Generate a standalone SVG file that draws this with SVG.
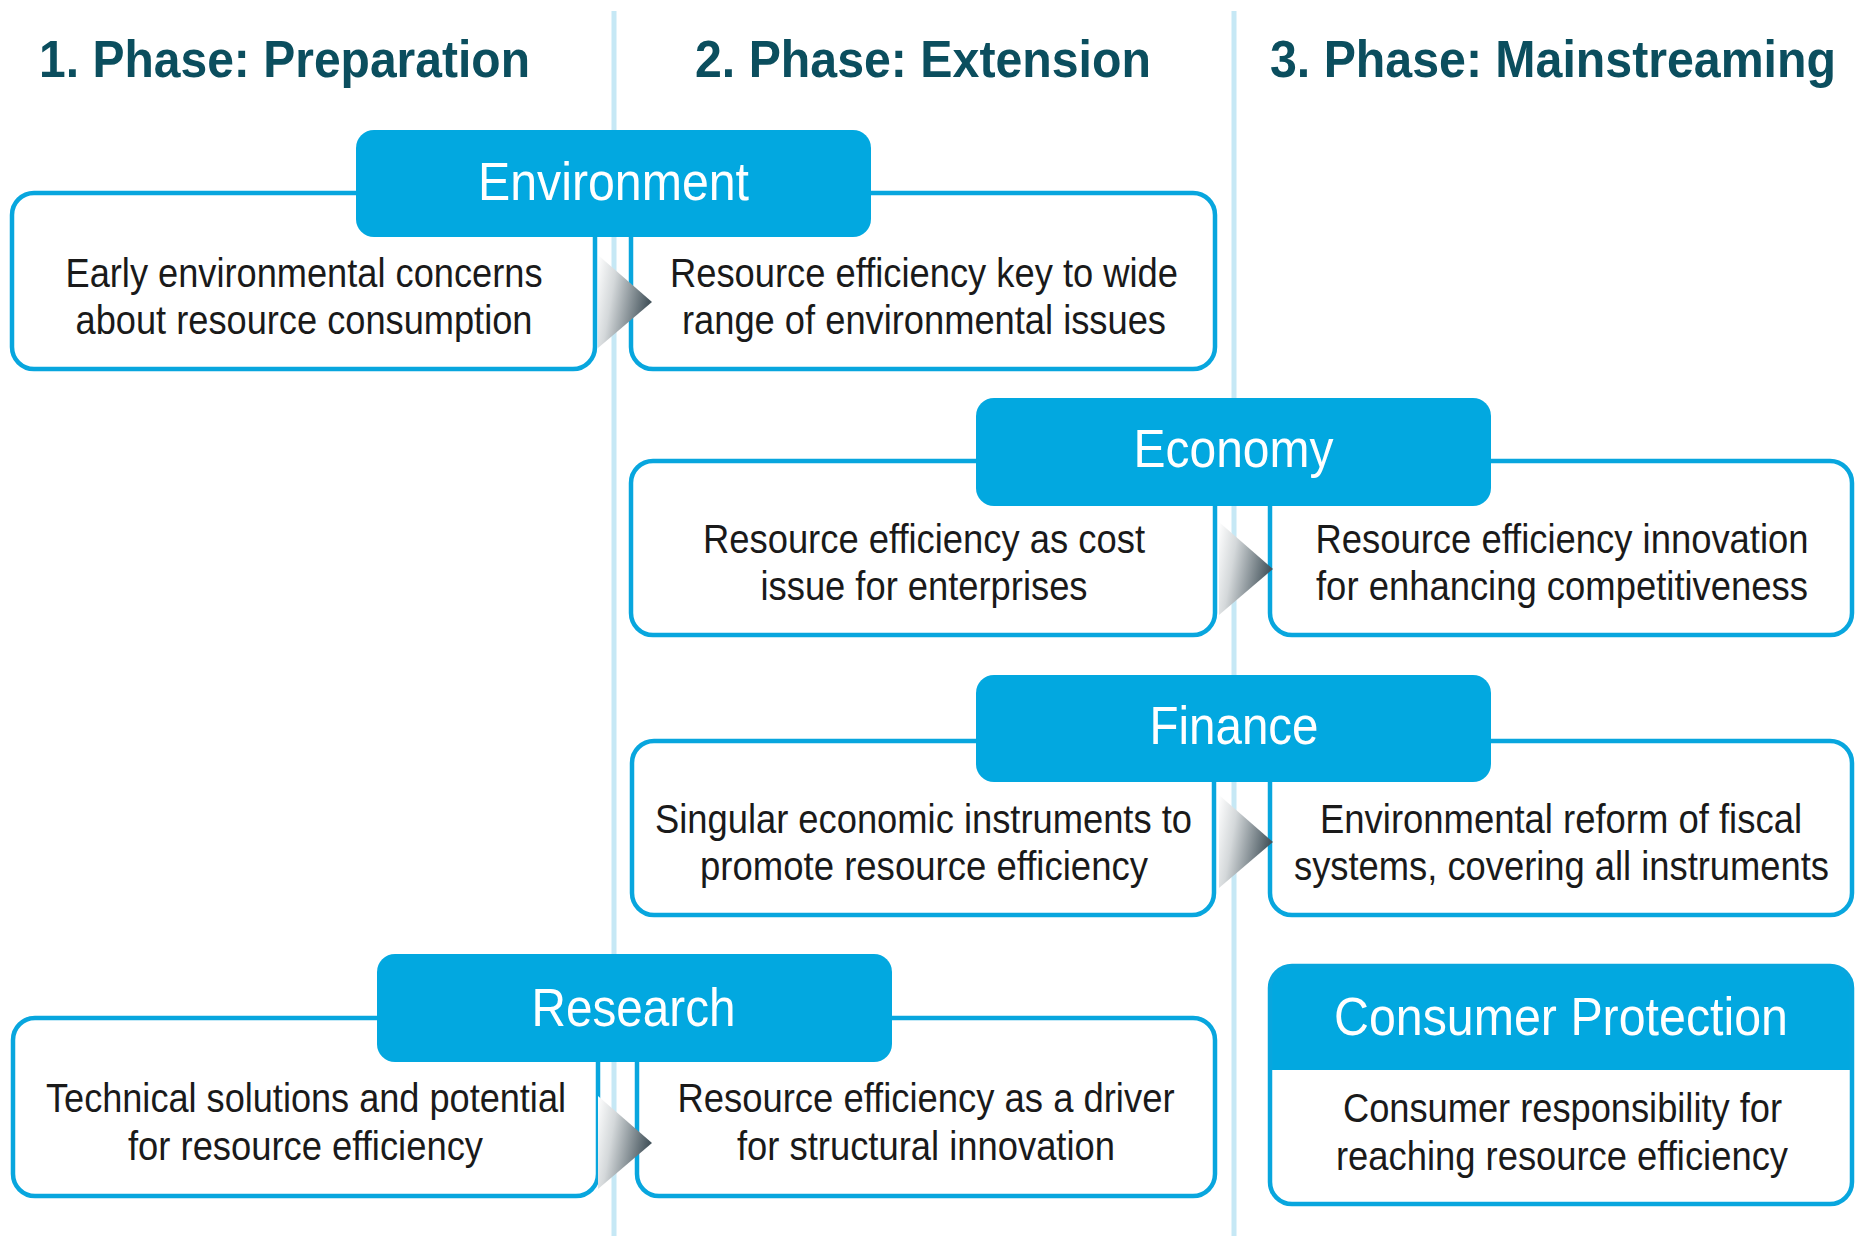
<svg xmlns="http://www.w3.org/2000/svg" width="1856" height="1236" viewBox="0 0 1856 1236">
<defs>
<style>
.div{stroke:#c6e8f5;stroke-width:5;fill:none}
.box{fill:#fff;stroke:#08a6de;stroke-width:4.5}
.hdr{fill:#02a8e0}
.ph{font-family:"Liberation Sans",Arial,sans-serif;font-weight:bold;font-size:52px;fill:#0b4e5e;text-anchor:middle}
.ht{font-family:"Liberation Sans",Arial,sans-serif;font-size:53px;fill:#fff;text-anchor:middle}
.bt{font-family:"Liberation Sans",Arial,sans-serif;font-size:40px;fill:#1a1a1a;text-anchor:middle}
</style>
<linearGradient id="chevGrad" x1="0" y1="0" x2="1" y2="0.3">
<stop offset="0" stop-color="#ffffff"/>
<stop offset="0.35" stop-color="#d4d8da"/>
<stop offset="1" stop-color="#47565e"/>
</linearGradient>
<path id="chev" d="M0,0 L54,47 L0,93 Z" fill="url(#chevGrad)"/>
</defs>
<rect width="1856" height="1236" fill="#fff"/>

<g id="dividers">
<line class="div" x1="614" y1="11" x2="614" y2="1236"/>
<line class="div" x1="1234" y1="11" x2="1234" y2="1236"/>
</g>

<g id="phase-headings">
<text class="ph" x="284.5" y="77" textLength="491" lengthAdjust="spacingAndGlyphs">1. Phase: Preparation</text>
<text class="ph" x="923" y="77" textLength="456" lengthAdjust="spacingAndGlyphs">2. Phase: Extension</text>
<text class="ph" x="1553" y="77" font-size="50" textLength="566" lengthAdjust="spacingAndGlyphs">3. Phase: Mainstreaming</text>
</g>

<g id="env-left">
<rect class="box" x="12" y="193" width="583" height="176" rx="22"/>
<text class="bt" x="304" y="287" textLength="477" lengthAdjust="spacingAndGlyphs">Early environmental concerns</text>
<text class="bt" x="304" y="334" textLength="457" lengthAdjust="spacingAndGlyphs">about resource consumption</text>
</g>
<g id="env-right">
<rect class="box" x="631" y="193" width="584" height="176" rx="22"/>
<text class="bt" x="924" y="287" textLength="508" lengthAdjust="spacingAndGlyphs">Resource efficiency key to wide</text>
<text class="bt" x="924" y="334" textLength="484" lengthAdjust="spacingAndGlyphs">range of environmental issues</text>
</g>
<g id="econ-left">
<rect class="box" x="631" y="461" width="584" height="174" rx="22"/>
<text class="bt" x="924" y="553" textLength="442" lengthAdjust="spacingAndGlyphs">Resource efficiency as cost</text>
<text class="bt" x="924" y="600" textLength="327" lengthAdjust="spacingAndGlyphs">issue for enterprises</text>
</g>
<g id="econ-right">
<rect class="box" x="1270" y="461" width="582" height="174" rx="22"/>
<text class="bt" x="1562" y="553" textLength="493" lengthAdjust="spacingAndGlyphs">Resource efficiency innovation</text>
<text class="bt" x="1562" y="600" textLength="492" lengthAdjust="spacingAndGlyphs">for enhancing competitiveness</text>
</g>
<g id="fin-left">
<rect class="box" x="632" y="741" width="582" height="174" rx="22"/>
<text class="bt" x="923.5" y="833" font-size="38" textLength="537" lengthAdjust="spacingAndGlyphs">Singular economic instruments to</text>
<text class="bt" x="924" y="880" textLength="448" lengthAdjust="spacingAndGlyphs">promote resource efficiency</text>
</g>
<g id="fin-right">
<rect class="box" x="1270" y="741" width="582" height="174" rx="22"/>
<text class="bt" x="1561" y="833" textLength="482" lengthAdjust="spacingAndGlyphs">Environmental reform of fiscal</text>
<text class="bt" x="1561.5" y="880" font-size="38" textLength="535" lengthAdjust="spacingAndGlyphs">systems, covering all instruments</text>
</g>
<g id="res-left">
<rect class="box" x="13" y="1018" width="585" height="178" rx="22"/>
<text class="bt" x="306" y="1112" textLength="520" lengthAdjust="spacingAndGlyphs">Technical solutions and potential</text>
<text class="bt" x="305.5" y="1160" textLength="355" lengthAdjust="spacingAndGlyphs">for resource efficiency</text>
</g>
<g id="res-right">
<rect class="box" x="637" y="1018" width="578" height="178" rx="22"/>
<text class="bt" x="926" y="1112" textLength="497" lengthAdjust="spacingAndGlyphs">Resource efficiency as a driver</text>
<text class="bt" x="926" y="1160" textLength="378" lengthAdjust="spacingAndGlyphs">for structural innovation</text>
</g>

<g id="connectors">
<use href="#chev" x="598" y="255"/>
<use href="#chev" x="1219" y="522"/>
<use href="#chev" x="1219" y="795"/>
<use href="#chev" x="598" y="1096"/>
</g>

<g id="hdr-environment">
<rect class="hdr" x="356" y="130" width="515" height="107" rx="18"/>
<text class="ht" x="613.5" y="200" textLength="271" lengthAdjust="spacingAndGlyphs">Environment</text>
</g>
<g id="hdr-economy">
<rect class="hdr" x="976" y="398" width="515" height="108" rx="18"/>
<text class="ht" x="1233.5" y="467" textLength="200" lengthAdjust="spacingAndGlyphs">Economy</text>
</g>
<g id="hdr-finance">
<rect class="hdr" x="976" y="675" width="515" height="107" rx="18"/>
<text class="ht" x="1234" y="744" textLength="169" lengthAdjust="spacingAndGlyphs">Finance</text>
</g>
<g id="hdr-research">
<rect class="hdr" x="377" y="954" width="515" height="108" rx="18"/>
<text class="ht" x="633.5" y="1026" textLength="204" lengthAdjust="spacingAndGlyphs">Research</text>
</g>

<g id="consumer-protection">
<rect x="1270" y="966" width="582" height="238" rx="22" fill="#fff"/>
<path class="hdr" d="M1270,1070 V988 Q1270,966 1292,966 H1830 Q1852,966 1852,988 V1070 Z"/>
<rect x="1270" y="966" width="582" height="238" rx="22" fill="none" stroke="#08a6de" stroke-width="4.5"/>
<text class="ht" x="1561" y="1035" textLength="454" lengthAdjust="spacingAndGlyphs">Consumer Protection</text>
<text class="bt" x="1562.5" y="1122" textLength="439" lengthAdjust="spacingAndGlyphs">Consumer responsibility for</text>
<text class="bt" x="1562" y="1170" textLength="452" lengthAdjust="spacingAndGlyphs">reaching resource efficiency</text>
</g>
</svg>
